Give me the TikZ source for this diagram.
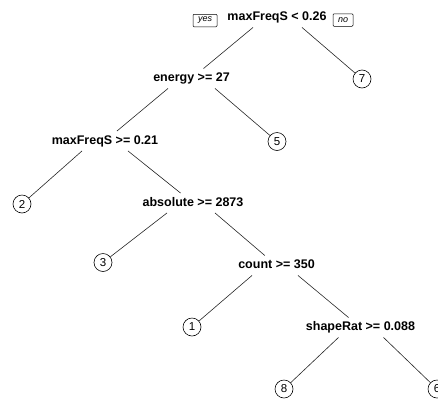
\documentclass[tikz,border=0pt]{standalone}
\usepackage{fontspec}
\setmainfont{Liberation Sans}
\begin{document}
\begin{tikzpicture}[x=1pt,y=-1pt,
  splitnode/.style={font=\bfseries\fontsize{12.5}{14}\selectfont, text height=9pt, text depth=2.5pt, inner xsep=2pt, inner ysep=4pt},
  leafnode/.style={draw, circle, minimum size=18pt, inner sep=0pt, line width=0.6pt, font=\fontsize{11.5}{13}\selectfont},
  tagnode/.style={draw, rounded corners=1pt, line width=0.5pt, inner sep=0pt, font=\itshape\fontsize{9}{10}\selectfont, minimum height=12.5pt},
  branch/.style={line width=0.6pt, black!85}]
\useasboundingbox (0,0) rectangle (438,402);
\clip (0,0) rectangle (438,402);
% split labels
\node[splitnode] (root) at (277,17.5) {maxFreqS < 0.26};
\node[splitnode] (energy) at (191.5,78.5) {energy >= 27};
\node[splitnode] (mfs) at (105,141) {maxFreqS >= 0.21};
\node[splitnode] (abs) at (193,203) {absolute >= 2873};
\node[splitnode] (count) at (276.5,265.5) {count >= 350};
\node[splitnode] (shape) at (360.5,327.5) {shapeRat >= 0.088};
% yes / no tags
\node[tagnode, minimum width=24pt] (yes) at (205,20.5) {yes};
\node[tagnode, minimum width=20pt] (no) at (343,20) {no};
% leaves
\node[leafnode] (l7) at (362,79) {7};
\node[leafnode] (l5) at (277,141.5) {5};
\node[leafnode] (l2) at (22,204) {2};
\node[leafnode] (l3) at (103,262.5) {3};
\node[leafnode] (l1) at (192,327) {1};
\node[leafnode] (l8) at (284,389) {8};
\node[leafnode] (l6) at (437,389) {6};
% branch start points
\coordinate (rootL) at ([xshift=-24pt]root.south);
\coordinate (rootR) at ([xshift=25pt]root.south);
\coordinate (energyL) at ([xshift=-23.5pt]energy.south);
\coordinate (energyR) at ([xshift=23.5pt]energy.south);
\coordinate (mfsL) at ([xshift=-23pt]mfs.south);
\coordinate (mfsR) at ([xshift=23pt]mfs.south);
\coordinate (absL) at ([xshift=-26pt]abs.south);
\coordinate (absR) at ([xshift=22pt]abs.south);
\coordinate (countL) at ([xshift=-24.5pt]count.south);
\coordinate (countR) at ([xshift=21.5pt]count.south);
\coordinate (shapeL) at ([xshift=-22pt]shape.south);
\coordinate (shapeR) at ([xshift=23pt]shape.south);
% branches
\draw[branch] (rootL) -- (energy);
\draw[branch] (rootR) -- (l7);
\draw[branch] (energyL) -- (mfs);
\draw[branch] (energyR) -- (l5);
\draw[branch] (mfsL) -- (l2);
\draw[branch] (mfsR) -- (abs);
\draw[branch] (absL) -- (l3);
\draw[branch] (absR) -- (count);
\draw[branch] (countL) -- (l1);
\draw[branch] (countR) -- (shape);
\draw[branch] (shapeL) -- (l8);
\draw[branch] (shapeR) -- (l6);
\end{tikzpicture}
\end{document}
